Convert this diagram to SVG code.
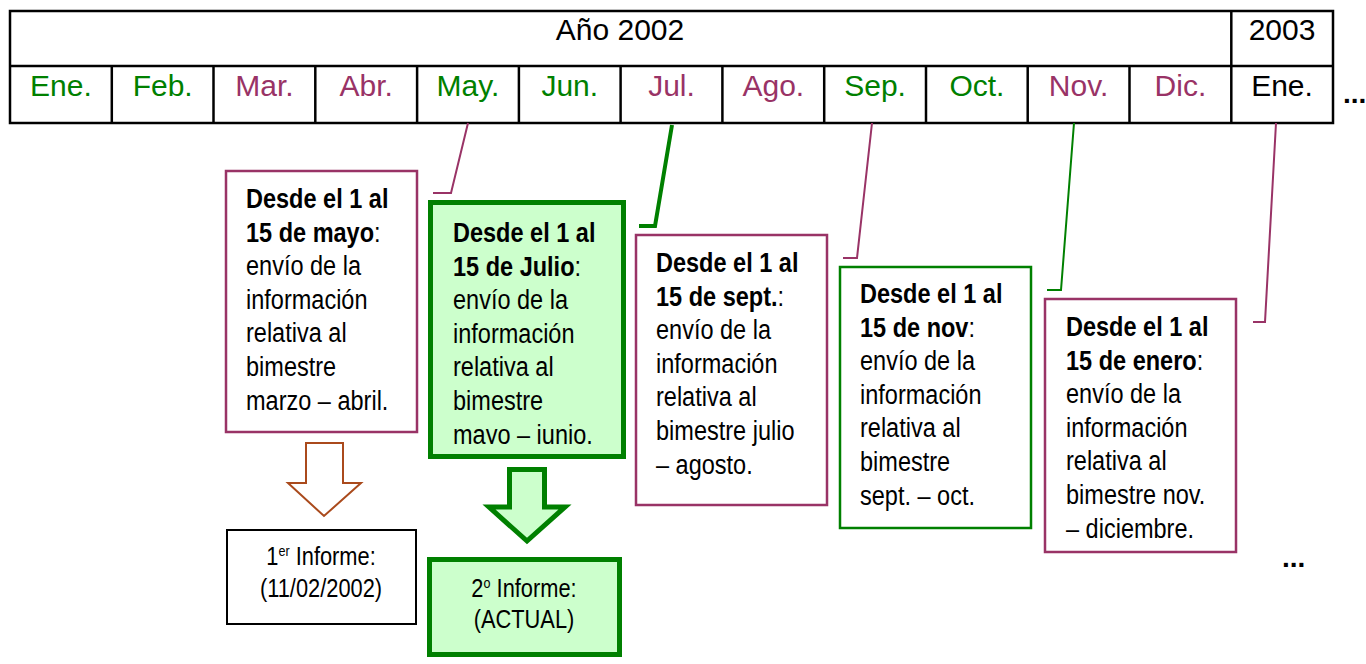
<svg xmlns="http://www.w3.org/2000/svg" width="1366" height="664" viewBox="0 0 1366 664">
<style>
text{font-family:"Liberation Sans",Arial,sans-serif;fill:#000}
.m{font-size:30px;text-anchor:middle}
.g{fill:#008000}
.p{fill:#993366}
.bt{font-size:28px}
.b{font-weight:bold}
.it{font-size:26px;text-anchor:middle}
.sup{font-size:15px}
.tl{fill:none;stroke:#000;stroke-width:2.5}
.box{fill:#fff;stroke-width:2.5}
.pb{stroke:#993366}
.gb{stroke:#008000}
.conn{fill:none;stroke-width:2}
</style>
<defs>
<clipPath id="clipB"><rect x="430" y="200" width="196" height="244"/></clipPath>
</defs>
<rect width="1366" height="664" fill="#fff"/>
<g id="timeline">
<rect class="tl" x="10" y="11" width="1323" height="112"/>
<line class="tl" x1="10" y1="66" x2="1333" y2="66"/>
<line class="tl" x1="1231.3" y1="11" x2="1231.3" y2="123"/>
<g stroke="#000" stroke-width="2.5">
<line x1="111.8" y1="66" x2="111.8" y2="123"/>
<line x1="213.5" y1="66" x2="213.5" y2="123"/>
<line x1="315.3" y1="66" x2="315.3" y2="123"/>
<line x1="417.1" y1="66" x2="417.1" y2="123"/>
<line x1="518.9" y1="66" x2="518.9" y2="123"/>
<line x1="620.6" y1="66" x2="620.6" y2="123"/>
<line x1="722.4" y1="66" x2="722.4" y2="123"/>
<line x1="824.2" y1="66" x2="824.2" y2="123"/>
<line x1="926" y1="66" x2="926" y2="123"/>
<line x1="1027.7" y1="66" x2="1027.7" y2="123"/>
<line x1="1129.5" y1="66" x2="1129.5" y2="123"/>
</g>
<text class="m" x="620" y="40">Año 2002</text>
<text class="m" x="1282" y="40">2003</text>
<text class="m g" x="60.9" y="96">Ene.</text>
<text class="m g" x="162.7" y="96">Feb.</text>
<text class="m p" x="264.4" y="96">Mar.</text>
<text class="m p" x="366.2" y="96">Abr.</text>
<text class="m g" x="468" y="96">May.</text>
<text class="m g" x="569.8" y="96">Jun.</text>
<text class="m p" x="671.5" y="96">Jul.</text>
<text class="m p" x="773.3" y="96">Ago.</text>
<text class="m g" x="875.1" y="96">Sep.</text>
<text class="m g" x="976.9" y="96">Oct.</text>
<text class="m p" x="1078.6" y="96">Nov.</text>
<text class="m p" x="1180.4" y="96">Dic.</text>
<text class="m" x="1282" y="96">Ene.</text>
<text x="1343" y="103" style="font-size:28px;font-weight:bold">...</text>
</g>
<g id="connectors">
<polyline class="conn" stroke="#993366" points="468,123 451,193 433,193"/>
<polyline class="conn" stroke="#008000" points="672,125 655,226 639,226" style="stroke-width:4"/>
<polyline class="conn" stroke="#993366" points="872,123 857,258 843,258"/>
<polyline class="conn" stroke="#008000" points="1074,123 1061,290 1047,290"/>
<polyline class="conn" stroke="#993366" points="1276,123 1265,322 1253,322"/>
<polygon id="arrow1" points="306,443 343,443 343,483 361,483 324,516 288,483 306,483" fill="#fff" stroke="#AA4A1C" stroke-width="2"/>
<polygon id="arrow2" points="509.5,469.5 544.5,469.5 544.5,507 565,507 527,541 489,507 509.5,507" fill="#CCFFCC" stroke="#008000" stroke-width="5"/>
</g>
<g id="boxA">
<rect class="box pb" x="226" y="171" width="191" height="261"/>
<text class="bt" transform="matrix(0.84 0 0 1 246 208)"><tspan class="b" x="0" y="0">Desde el 1 al</tspan><tspan x="0" y="33.6"><tspan class="b">15 de mayo</tspan>:</tspan><tspan x="0" y="67.2">envío de la</tspan><tspan x="0" y="100.8">información</tspan><tspan x="0" y="134.4">relativa al</tspan><tspan x="0" y="168">bimestre</tspan><tspan x="0" y="201.6">marzo – abril.</tspan></text>
</g>
<g id="boxB">
<rect x="430.5" y="202.5" width="193" height="254" fill="#CCFFCC" stroke="#008000" stroke-width="5"/>
<g clip-path="url(#clipB)">
<text class="bt" transform="matrix(0.84 0 0 1 453 242)"><tspan class="b" x="0" y="0">Desde el 1 al</tspan><tspan x="0" y="33.6"><tspan class="b">15 de Julio</tspan>:</tspan><tspan x="0" y="67.2">envío de la</tspan><tspan x="0" y="100.8">información</tspan><tspan x="0" y="134.4">relativa al</tspan><tspan x="0" y="168">bimestre</tspan><tspan x="0" y="201.6">mayo – junio.</tspan></text>
</g>
</g>
<g id="boxC">
<rect class="box pb" x="636" y="235" width="191" height="270"/>
<text class="bt" transform="matrix(0.84 0 0 1 656 272)"><tspan class="b" x="0" y="0">Desde el 1 al</tspan><tspan x="0" y="33.6"><tspan class="b">15 de sept.</tspan>:</tspan><tspan x="0" y="67.2">envío de la</tspan><tspan x="0" y="100.8">información</tspan><tspan x="0" y="134.4">relativa al</tspan><tspan x="0" y="168">bimestre julio</tspan><tspan x="0" y="201.6">– agosto.</tspan></text>
</g>
<g id="boxD">
<rect class="box gb" x="840" y="267" width="191" height="261"/>
<text class="bt" transform="matrix(0.84 0 0 1 860 303)"><tspan class="b" x="0" y="0">Desde el 1 al</tspan><tspan x="0" y="33.6"><tspan class="b">15 de nov</tspan>:</tspan><tspan x="0" y="67.2">envío de la</tspan><tspan x="0" y="100.8">información</tspan><tspan x="0" y="134.4">relativa al</tspan><tspan x="0" y="168">bimestre</tspan><tspan x="0" y="201.6">sept. – oct.</tspan></text>
</g>
<g id="boxE">
<rect class="box pb" x="1045" y="299" width="191" height="253"/>
<text class="bt" transform="matrix(0.84 0 0 1 1066 336)"><tspan class="b" x="0" y="0">Desde el 1 al</tspan><tspan x="0" y="33.6"><tspan class="b">15 de enero</tspan>:</tspan><tspan x="0" y="67.2">envío de la</tspan><tspan x="0" y="100.8">información</tspan><tspan x="0" y="134.4">relativa al</tspan><tspan x="0" y="168">bimestre nov.</tspan><tspan x="0" y="201.6">– diciembre.</tspan></text>
</g>
<g id="boxF">
<rect x="227" y="530" width="189" height="94" fill="#fff" stroke="#000" stroke-width="2"/>
<text class="it" transform="matrix(0.84 0 0 1 321 565)"><tspan x="0" y="0">1<tspan class="sup" dy="-9">er</tspan><tspan dy="9"> Informe:</tspan></tspan><tspan x="0" y="32">(11/02/2002)</tspan></text>
</g>
<g id="boxG">
<rect x="429.5" y="559.5" width="190" height="95" fill="#CCFFCC" stroke="#008000" stroke-width="5"/>
<text class="it" transform="matrix(0.84 0 0 1 524 597)"><tspan x="0" y="0">2<tspan class="sup" dy="-9">o</tspan><tspan dy="9"> Informe:</tspan></tspan><tspan x="0" y="31">(ACTUAL)</tspan></text>
</g>
<text id="ellipsis" x="1282" y="567" style="font-size:28px;font-weight:bold">...</text>
</svg>
